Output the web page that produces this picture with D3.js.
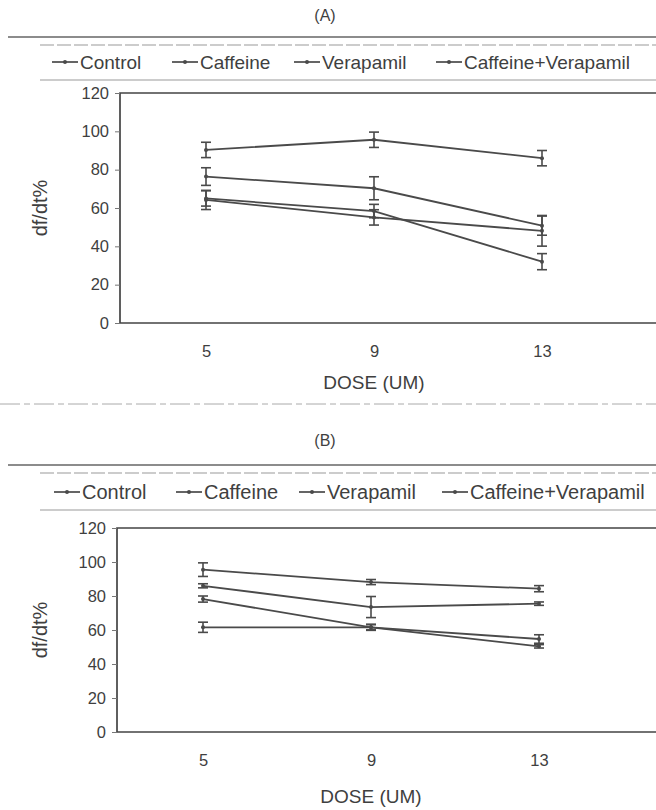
<!doctype html>
<html>
<head>
<meta charset="utf-8">
<script src="https://cdn.jsdelivr.net/npm/d3@7"></script>
<style>
  body { margin: 0; background: #fff; }
  svg text { font-family: "Liberation Sans", Arial, sans-serif; fill: #3f3f3f; }
</style>
</head>
<body>
<svg id="chart" width="656" height="810"></svg>
<script>
var doses = ["5", "9", "13"];
var seriesNames = ["Control", "Caffeine", "Verapamil", "Caffeine+Verapamil"];
var yTicks = [0, 20, 40, 60, 80, 100, 120];

// panel (A) values, df/dt %
var aControl = [90.3, 95.6, 86];
var aControlErr = [4, 4, 4];
var aCaffeine = [76.4, 70.3, 50.8];
var aCaffeineErr = [4.6, 6, 5];
var aVerapamil = [65, 58.4, 32];
var aVerapamilErr = [4, 3.5, 4.2];
var aCafVer = [64.2, 55.1, 48.1];
var aCafVerErr = [5, 4, 8];

// panel (B) values
var bControl = [95.5, 88.2, 84.3];
var bControlErr = [4, 1.5, 1.8];
var bCaffeine = [86, 73.5, 75.5];
var bCaffeineErr = [1.2, 6.2, 1];
var bVerapamil = [78.2, 61.6, 50.4];
var bVerapamilErr = [1.8, 1.8, 1];
var bCafVer = [61.6, 61.6, 54.7];
var bCafVerErr = [3, 1.5, 2.5];

var lineColor = "#4a4a4a";
var svg = d3.select("#chart");
svg.append("rect").attr("width", 656).attr("height", 810).attr("fill", "#fff");

function drawPanel(p) {
  var g = svg.append("g");

  g.append("text").attr("x", 325).attr("y", p.titleY)
    .attr("text-anchor", "middle").attr("font-size", 16).text(p.title);

  // rules round the legend
  g.append("line").attr("x1", 8).attr("x2", 656).attr("y1", p.ruleY).attr("y2", p.ruleY)
    .attr("stroke", "#666").attr("stroke-width", 1.3);
  g.append("line").attr("x1", 40).attr("x2", 656).attr("y1", p.ruleY + 8).attr("y2", p.ruleY + 8)
    .attr("stroke", "#999").attr("stroke-width", 1).attr("stroke-dasharray", "14 3");
  g.append("line").attr("x1", 40).attr("x2", 656).attr("y1", p.legendY + 18).attr("y2", p.legendY + 18)
    .attr("stroke", "#999").attr("stroke-width", 1);

  // legend
  var lx = d3.scaleOrdinal().domain(seriesNames).range(p.legendX);
  var leg = g.selectAll("g.leg").data(seriesNames).enter().append("g")
    .attr("transform", function (d) { return "translate(" + lx(d) + "," + p.legendY + ")"; });
  leg.append("line").attr("x1", 0).attr("x2", 26).attr("y1", 0).attr("y2", 0)
    .attr("stroke", lineColor).attr("stroke-width", 1.7);
  leg.append("circle").attr("cx", 13).attr("cy", 0).attr("r", 2).attr("fill", lineColor);
  leg.append("text").attr("x", 28).attr("y", 7).attr("font-size", p.legendFont)
    .text(function (d) { return d; });

  var x = d3.scalePoint().domain(doses).range([p.left + 2, p.left + 506]).padding(0.5);
  var y = d3.scaleLinear().domain([0, 120]).range([p.bottom, p.top]);

  // frame
  g.append("path")
    .attr("d", "M" + 670 + "," + p.top + "H" + p.left + "V" + p.bottom + "H" + 670)
    .attr("fill", "none").attr("stroke", "#444").attr("stroke-width", 1.7);

  var yAxis = g.append("g").attr("transform", "translate(" + p.left + ",0)")
    .call(d3.axisLeft(y).tickValues(yTicks).tickSize(5).tickPadding(6));
  yAxis.select(".domain").remove();
  yAxis.selectAll("line").attr("stroke", "#777");
  yAxis.selectAll("text").attr("font-size", 16.5).attr("fill", "#444").attr("font-family", null);

  var xAxis = g.append("g").attr("transform", "translate(0," + p.bottom + ")")
    .call(d3.axisBottom(x).tickSize(0).tickPadding(p.xPad));
  xAxis.select(".domain").remove();
  xAxis.selectAll("text").attr("font-size", 16.5).attr("fill", "#444").attr("font-family", null);

  g.append("text").attr("x", x("9")).attr("y", p.xTitleY).attr("text-anchor", "middle")
    .attr("font-size", 19).text("DOSE (UM)");
  g.append("text").attr("transform", "translate(" + 47 + "," + ((p.top + p.bottom) / 2) + ") rotate(-90)")
    .attr("text-anchor", "middle").attr("font-size", 20).text("df/dt%");

  var line = d3.line().x(function (d) { return x(d.dose); }).y(function (d) { return y(d.v); });
  p.series.forEach(function (s) {
    var pts = doses.map(function (d, i) { return { dose: d, v: s.values[i], e: s.err[i] }; });
    g.append("path").datum(pts).attr("d", line).attr("fill", "none")
      .attr("stroke", lineColor).attr("stroke-width", 1.8);
    var eb = g.selectAll(null).data(pts).enter().append("g");
    eb.append("line").attr("x1", function (d) { return x(d.dose); }).attr("x2", function (d) { return x(d.dose); })
      .attr("y1", function (d) { return y(d.v + d.e); }).attr("y2", function (d) { return y(d.v - d.e); })
      .attr("stroke", lineColor).attr("stroke-width", 1.6);
    [1, -1].forEach(function (sign) {
      eb.append("line").attr("x1", function (d) { return x(d.dose) - 5; }).attr("x2", function (d) { return x(d.dose) + 5; })
        .attr("y1", function (d) { return y(d.v + sign * d.e); }).attr("y2", function (d) { return y(d.v + sign * d.e); })
        .attr("stroke", lineColor).attr("stroke-width", 1.6);
    });
    eb.append("circle").attr("cx", function (d) { return x(d.dose); }).attr("cy", function (d) { return y(d.v); })
      .attr("r", 2).attr("fill", lineColor);
  });
}

drawPanel({
  title: "(A)", titleY: 21, ruleY: 37, legendY: 62, legendFont: 19,
  legendX: [52, 172, 294, 436],
  left: 120, top: 93, bottom: 323, xPad: 22, xTitleY: 389,
  series: [
    { values: aControl, err: aControlErr },
    { values: aCaffeine, err: aCaffeineErr },
    { values: aVerapamil, err: aVerapamilErr },
    { values: aCafVer, err: aCafVerErr }
  ]
});

// dashed separator between the panels
svg.append("line").attr("x1", 0).attr("x2", 656).attr("y1", 404).attr("y2", 404)
  .attr("stroke", "#aaa").attr("stroke-width", 1).attr("stroke-dasharray", "20 4 6 4");

drawPanel({
  title: "(B)", titleY: 446, ruleY: 465, legendY: 492, legendFont: 20,
  legendX: [54, 176, 299, 442],
  left: 117, top: 528, bottom: 732, xPad: 22, xTitleY: 803,
  series: [
    { values: bControl, err: bControlErr },
    { values: bCaffeine, err: bCaffeineErr },
    { values: bVerapamil, err: bVerapamilErr },
    { values: bCafVer, err: bCafVerErr }
  ]
});
</script>
</body>
</html>
